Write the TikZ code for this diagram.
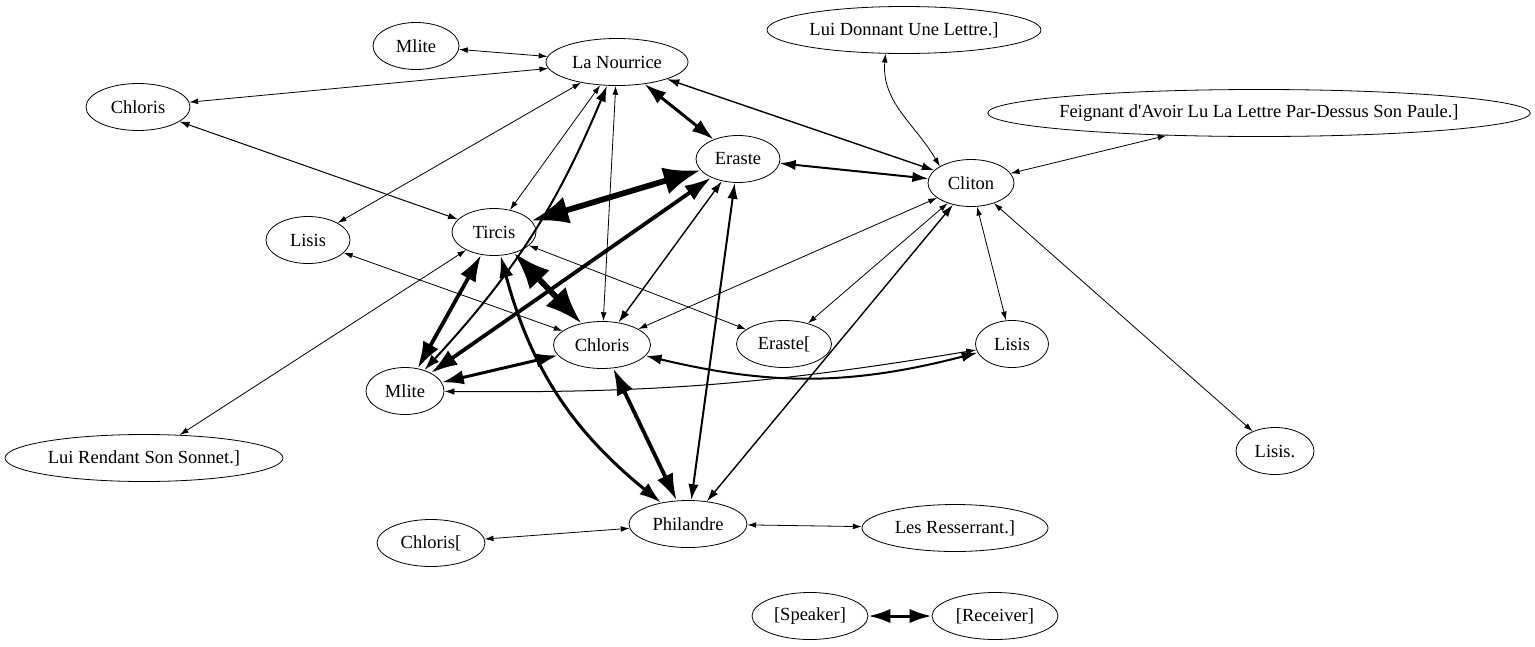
\documentclass[tikz,border=0pt]{standalone}
\usepackage{fontspec}
\setmainfont{Liberation Serif}
\usetikzlibrary{arrows.meta,shapes.geometric}

\tikzset{
  pers/.style = {draw, ellipse, line width=0.8pt, inner xsep=0pt, inner ysep=0pt,
                 minimum height=47pt, font=\fontsize{18.5}{22}\selectfont},
  e1/.style = {<->, line width=0.8pt},
  e2/.style = {<->, line width=1.4pt},
  e3/.style = {<->, line width=2pt},
  e4/.style = {<->, line width=3pt},
  e5/.style = {<->, line width=3.8pt},
  e6/.style = {<->, line width=5.8pt, >={Latex[length=5pt 5.5, width'=0pt 0.75]}},
  >={Latex[length=4pt 6, width'=0pt 0.65]}
}

\begin{document}
\begin{tikzpicture}[x=1pt, y=1pt]
		\useasboundingbox (0,0) rectangle (1535,-646);
		% persons
		\node[pers, minimum width=86pt]  (Mla) at (416,-46)  {Mlite};
		\node[pers, minimum width=142pt] (Nou) at (617,-62)  {La Nourrice};
		\node[pers, minimum width=104pt] (ChA) at (138,-107) {Chloris};
		\node[pers, minimum width=84pt]  (Er)  at (738,-159) {Eraste};
		\node[pers, minimum width=86pt]  (Cl)  at (971,-183) {Cliton};
		\node[pers, minimum width=274pt] (Don) at (904,-30)  {Lui Donnant Une Lettre.]};
		\node[pers, inner xsep=-7.8pt]   (Fei) at (1259,-113) {Feignant d\textquotesingle Avoir Lu La Lettre Par-Dessus Son Paule.]};
		\node[pers, minimum width=84pt]  (LiA) at (308,-240) {Lisis};
		\node[pers, minimum width=84pt]  (Ti)  at (494,-232) {Tircis};
		\node[pers, minimum width=97pt]  (ChB) at (602,-345) {Chloris};
		\node[pers, minimum width=95pt]  (ErB) at (784,-344) {Eraste[};
		\node[pers, minimum width=73pt]  (LiB) at (1012,-344) {Lisis};
		\node[pers, minimum width=78pt]  (Mlb) at (405,-391) {Mlite};
		\node[pers, minimum width=278pt] (Ren) at (144,-458) {Lui Rendant Son Sonnet.]};
		\node[pers, minimum width=78pt]  (LiC) at (1275,-451) {Lisis.};
		\node[pers, minimum width=108pt] (ChC) at (431,-543) {Chloris[};
		\node[pers, minimum width=118pt] (Ph)  at (688,-524) {Philandre};
		\node[pers, minimum width=186pt] (Res) at (955,-528) {Les Resserrant.]};
		\node[pers, minimum width=116pt] (Sp)  at (810,-616) {[Speaker]};
		\node[pers, minimum width=126pt] (Re)  at (995,-616) {[Receiver]};
		% relations
		\draw[e1] (Mla) -- (Nou);
		\draw[e1] (Nou) -- (ChA);
		\draw[e1] (Nou) -- (LiA);
		\draw[e1] (Nou) -- (Ti);
		\draw[e3] (Nou) to[bend left=10] (Mlb);
		\draw[e1] (Nou) -- (ChB);
		\draw[e4] (Nou) -- (Er);
		\draw[e2] (Nou) -- (Cl);
		\draw[e1, line width=1pt] (ChA) -- (Ti);
		\draw[e6] (Er) -- (Ti);
		\draw[e5] (Er) -- (Mlb);
		\draw[e2] (Er) -- (ChB);
		\draw[e3] (Er) -- (Ph);
		\draw[e3] (Er) -- (Cl);
		\draw[e1] (Cl.152) to[out=120, in=-95] (Don.-128);
		\draw[e1] (Cl) -- (Fei);
		\draw[e1] (Cl) -- (ChB);
		\draw[e1] (Cl) -- (ErB);
		\draw[e2] (Cl) -- (Ph);
		\draw[e1] (Cl) -- (LiB);
		\draw[e1] (Cl) -- (LiC);
		\draw[e1] (LiA) -- (ChB);
		\draw[e1] (Ti) -- (Ren);
		\draw[e1] (Ti) -- (ErB);
		\draw[e6] (Ti) -- (ChB);
		\draw[e5] (Ti) -- (Mlb);
		\draw[e4] (Ti) to[bend right=18] (Ph);
		\draw[e4] (ChB) -- (Mlb);
		\draw[e3] (ChB) to[bend right=14] (LiB);
		\draw[e1, line width=1pt] (Mlb) to[bend right=5] (LiB);
		\draw[e5] (ChB) -- (Ph);
		\draw[e1] (Ph) -- (ChC);
		\draw[e1] (Ph) -- (Res);
		% legend
		\draw[e4] (Sp) -- (Re);
	\end{tikzpicture}
\end{document}
